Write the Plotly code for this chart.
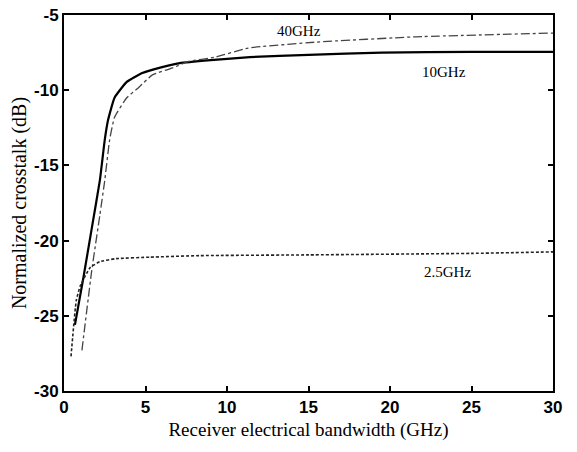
import plotly.graph_objects as go

# Receiver electrical bandwidth (GHz) and normalized crosstalk (dB)
bw_10 = [0.67, 1.2, 1.7, 2.2, 2.5, 2.7, 3.1, 3.85, 4.8, 5.9, 7.1, 9.0, 11.4, 15, 19.5, 25, 30]
xt_10 = [-25.6, -22.4, -19.2, -16.0, -13.3, -12.0, -10.5, -9.45, -8.86, -8.5, -8.2, -8.0, -7.8, -7.65, -7.5, -7.45, -7.45]

bw_40 = [1.1, 1.7, 2.2, 2.5, 2.8, 3.1, 3.85, 4.6, 5.4, 6.7, 7.6, 9.3, 11.3, 15.5, 21.6, 30]
xt_40 = [-27.3, -22.0, -18.3, -16.0, -13.3, -11.8, -10.5, -9.8, -9.0, -8.5, -8.1, -7.8, -7.2, -6.8, -6.45, -6.2]

bw_2_5 = [0.43, 0.75, 1.0, 1.6, 2.2, 3.2, 5.3, 8.3, 15, 25, 30]
xt_2_5 = [-27.7, -24.0, -23.0, -21.8, -21.4, -21.2, -21.1, -21.0, -20.95, -20.85, -20.75]

labels = ["40GHz", "10GHz", "2.5GHz"]
label_x = [14.4, 23.3, 23.5]
label_y = [-6.05, -8.8, -22.1]

x_ticks = [0, 5, 10, 15, 20, 25, 30]
y_ticks = [-30, -25, -20, -15, -10, -5]

fig = go.Figure()
fig.add_trace(go.Scatter(x=bw_10, y=xt_10, mode="lines", line=dict(color="black", width=2.2, shape="spline", smoothing=0.4)))
fig.add_trace(go.Scatter(x=bw_40, y=xt_40, mode="lines", line=dict(color="#444", width=1.3, dash="dashdot", shape="spline", smoothing=0.4)))
fig.add_trace(go.Scatter(x=bw_2_5, y=xt_2_5, mode="lines", line=dict(color="#222", width=1.6, dash="3px,2px", shape="spline", smoothing=0.4)))

for t, x, y in zip(labels, label_x, label_y):
    fig.add_annotation(x=x, y=y, text=t, showarrow=False,
                       font=dict(family="Liberation Serif", size=15, color="black"))

axis_common = dict(showline=True, linecolor="black", linewidth=2, mirror="ticks",
                   ticks="inside", ticklen=5, tickwidth=1.5, tickcolor="black",
                   showgrid=False, zeroline=False, automargin=False,
                   ticklabeloverflow="allow",
                   tickfont=dict(family="Liberation Sans", size=17, color="black", weight="bold"))

fig.update_xaxes(range=[0, 30], tickvals=x_ticks, ticktext=[str(v) for v in x_ticks],
                 title=dict(text="Receiver electrical bandwidth (GHz)",
                            font=dict(family="Liberation Serif", size=19, color="black"), standoff=6),
                 ticklabelstandoff=0,
                 **axis_common)
fig.update_yaxes(range=[-30, -5], tickvals=y_ticks, ticktext=[str(v) for v in y_ticks],
                 title=dict(text="Normalized crosstalk (dB)",
                            font=dict(family="Liberation Serif", size=20, color="black"), standoff=2),
                 ticklabelstandoff=0,
                 **axis_common)

fig.update_layout(width=577, height=452, showlegend=False,
                  margin=dict(l=64, r=24, t=15, b=61),
                  plot_bgcolor="white", paper_bgcolor="white")

# remove the page body's default 8px margin so the figure fills the window
fig.write_html("out.html", config={"displayModeBar": False},
               post_script="document.body.style.margin='0px';")
